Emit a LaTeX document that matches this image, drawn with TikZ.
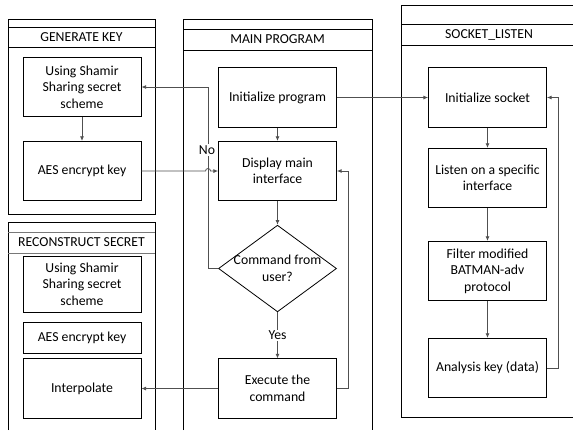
\documentclass[tikz,border=0pt]{standalone}
\usepackage{fontspec}
\setmainfont{Carlito}
\usetikzlibrary{shapes.geometric,arrows.meta,positioning}
\definecolor{lnkgray}{RGB}{80,80,80}
\definecolor{bandgray}{RGB}{120,120,120}

\begin{document}
\begin{tikzpicture}[x=0.75pt, y=-0.75pt,
    txt/.style={font=\fontsize{10.3}{12.4}\selectfont, align=center, text=black},
    proc/.style={txt, rectangle, draw, line width=0.6pt, minimum width=88.5pt,
        minimum height=44.5pt, inner sep=2pt},
    decide/.style={diamond, draw, line width=0.6pt, minimum width=88.5pt,
        minimum height=65pt, inner sep=0pt},
    panel/.style={line width=0.6pt},
    arr/.style={-{Latex[length=3.5pt,width=3pt]}, line width=0.6pt, lnkgray}
]
    \useasboundingbox (0,0) rectangle (573,430);

    % ---- Panels (frames and title bands) ----
    \draw[panel] (8,19) rectangle (155,214);
    \draw[panel] (8,27) -- (155,27);
    \draw[panel] (8,47) -- (155,47);
    \node[txt] (gentitle) at (81.5,37) {GENERATE KEY};

    \draw[panel] (183,430) -- (183,19) -- (372,19) -- (372,430);
    \draw[panel] (183,29) -- (372,29);
    \draw[panel] (183,50) -- (372,50);
    \node[txt] (maintitle) at (277.5,39.5) {MAIN PROGRAM};

    \draw[panel] (8,430) -- (8,222) -- (155,222) -- (155,430);
    \draw[panel, bandgray] (8,232) -- (155,232);
    \draw[panel, bandgray] (8,253) -- (155,253);
    \node[txt] (rectitle) at (81.5,242.5) {RECONSTRUCT SECRET};

    \draw[panel] (573,5) -- (401,5) -- (401,417) -- (573,417);
    \draw[panel] (401,24) -- (573,24);
    \draw[panel] (401,45) -- (573,45);
    \node[txt] (socktitle) at (489,34.5) {SOCKET\_LISTEN};

    % ---- Generate key ----
    \node[proc] (gshamir) at (82,87) {Using Shamir\\Sharing secret\\scheme};
    \node[proc] (gaes) at (82,171) {AES encrypt key};

    % ---- Reconstruct secret ----
    \node[proc, minimum height=42pt] (rshamir) at (82,284) {Using Shamir\\Sharing secret\\scheme};
    \node[proc, minimum height=23.25pt] (raes) at (82,337.5) {AES encrypt key};
    \node[proc] (rinterp) at (82,388.5) {Interpolate};

    % ---- Main program ----
    \node[proc] (init) at (277.5,97.5) {Initialize program};
    \node[proc] (disp) at (277.5,171) {Display main\\interface};
    \node[decide] (cmd) at (277.5,268.5) {};
    \node[txt] (cmdtext) at (cmd.center) {Command from\\user?};
    \node[proc] (exec) at (277.5,388.5) {Execute the\\command};

    % ---- Socket listen ----
    \node[proc] (sock) at (487.5,97.5) {Initialize socket};
    \node[proc] (listen) at (487.5,178) {Listen on a specific\\interface};
    \node[proc] (filter) at (487.5,271) {Filter modified\\BATMAN-adv\\protocol};
    \node[proc] (analysis) at (487.5,368) {Analysis key (data)};

    % ---- Connectors ----
    \draw[arr] (gshamir) -- (gaes);
    \draw[arr] (init) -- (disp);
    \draw[arr] (disp) -- (cmd);
    \draw[arr] (cmd) -- node[txt, fill=white, inner sep=1pt] (yes) {Yes} (exec);

    \coordinate (nocorner) at (208,87);
    \draw[arr] (cmd.west) -| (nocorner) -- (gshamir.east);
    \node[txt, fill=white, inner sep=1pt] (no) at (207,150) {No};

    % AES key hops over the "No" line
    \coordinate (hop) at (205.5,171);
    \draw[arr] (gaes.east) -- (hop) arc[start angle=180, end angle=0, radius=1.9pt]
        -- (disp.west);

    \draw[arr] (exec.west) -- (rinterp.east);
    \draw[arr] (exec.east) -- ++(11,0) |- (disp.east);

    \draw[arr] (init.east) -- (sock.west);
    \draw[arr] (sock) -- (listen);
    \draw[arr] (listen) -- (filter);
    \draw[arr] (filter) -- (analysis);
    \draw[arr] (analysis.east) -- ++(11,0) |- (sock.east);
\end{tikzpicture}
\end{document}
